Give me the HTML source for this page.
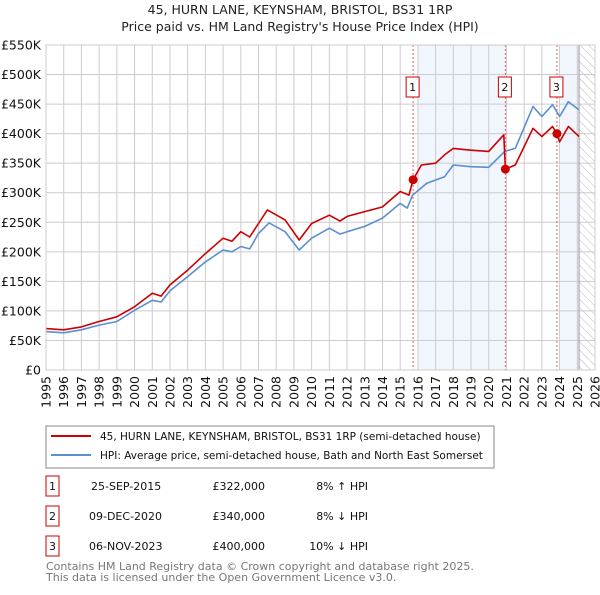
<!DOCTYPE html>
<html><head><meta charset="utf-8"><style>
body{margin:0;background:#fff;font-family:"Liberation Sans","DejaVu Sans",sans-serif}
svg text{font-family:"DejaVu Sans","Liberation Sans",sans-serif}
</style></head><body>
<svg id="c" width="600" height="590" viewBox="0 0 600 590" xmlns="http://www.w3.org/2000/svg">
<defs><pattern id="hatch" width="6" height="6" patternUnits="userSpaceOnUse" patternTransform="rotate(-45)"><line x1="0" y1="0" x2="0" y2="6" stroke="#bbb" stroke-width="1"/></pattern></defs>
<text x="300" y="14" text-anchor="middle" font-size="12.5" fill="#222">45, HURN LANE, KEYNSHAM, BRISTOL, BS31 1RP</text>
<text x="300" y="31" text-anchor="middle" font-size="12.5" fill="#222">Price paid vs. HM Land Registry's House Price Index (HPI)</text>
<g id="plot"></g>
<g>
<rect x="46" y="426" width="448" height="42" fill="#fff" stroke="#888"/>
<line x1="51" y1="436" x2="91" y2="436" stroke="#cc0000" stroke-width="2"/>
<text x="100" y="440" font-size="10.5" fill="#111">45, HURN LANE, KEYNSHAM, BRISTOL, BS31 1RP (semi-detached house)</text>
<line x1="51" y1="455" x2="91" y2="455" stroke="#5b8fd0" stroke-width="2"/>
<text x="100" y="459" font-size="10.5" fill="#111">HPI: Average price, semi-detached house, Bath and North East Somerset</text>
</g>
<g font-size="11" fill="#111">
<rect x="46" y="476" width="13" height="20" fill="none" stroke="#cc0000"/><text x="52.5" y="490" text-anchor="middle">1</text>
<text x="91" y="490">25-SEP-2015</text><text x="265" y="490" text-anchor="end">£322,000</text><text x="368" y="490" text-anchor="end">8% ↑ HPI</text>
<rect x="46" y="506" width="13" height="20" fill="none" stroke="#cc0000"/><text x="52.5" y="520" text-anchor="middle">2</text>
<text x="89" y="520">09-DEC-2020</text><text x="265" y="520" text-anchor="end">£340,000</text><text x="368" y="520" text-anchor="end">8% ↓ HPI</text>
<rect x="46" y="536" width="13" height="20" fill="none" stroke="#cc0000"/><text x="52.5" y="550" text-anchor="middle">3</text>
<text x="89" y="550">06-NOV-2023</text><text x="265" y="550" text-anchor="end">£400,000</text><text x="368" y="550" text-anchor="end">10% ↓ HPI</text>
</g>
<text x="46" y="570" font-size="11" fill="#777">Contains HM Land Registry data © Crown copyright and database right 2025.</text>
<text x="46" y="581" font-size="11" fill="#777">This data is licensed under the Open Government Licence v3.0.</text>
</svg>
<script>
const yTicks=[0,50,100,150,200,250,300,350,400,450,500,550];
const yTickLabels=["£0","£50K","£100K","£150K","£200K","£250K","£300K","£350K","£400K","£450K","£500K","£550K"];
const xYears=[1995,1996,1997,1998,1999,2000,2001,2002,2003,2004,2005,2006,2007,2008,2009,2010,2011,2012,2013,2014,2015,2016,2017,2018,2019,2020,2021,2022,2023,2024,2025,2026];
const hpiT=[1995,1996,1997,1998,1999,2000,2001,2001.5,2002,2003,2004,2005,2005.5,2006,2006.5,2007,2007.6,2008.5,2009.3,2010,2011,2011.6,2012,2013,2014,2015,2015.4,2015.7,2016.5,2017.5,2018,2019,2020,2020.9,2021.5,2022.5,2023,2023.6,2024,2024.5,2025.1];
const hpiV=[65,63,68,76,82,101,118,115,134,158,183,203,200,209,205,231,249,234,203,223,240,230,234,243,257,282,274,296,316,327,347,344,343,370,375,446,429,449,429,454,440];
const paidT=[1995,1996,1997,1998,1999,2000,2001,2001.5,2002,2003,2004,2005,2005.5,2006,2006.5,2007,2007.5,2008.5,2009.3,2010,2011,2011.6,2012,2013,2014,2015,2015.5,2015.73,2016.2,2017,2017.5,2018,2019,2020,2020.85,2020.94,2021.5,2022.5,2023,2023.6,2023.85,2024,2024.5,2025.1];
const paidV=[70,68,73,82,90,107,130,125,144,169,197,223,218,234,225,248,271,254,220,248,262,252,260,268,276,302,296,322,347,350,364,375,372,370,398,340,347,409,395,412,400,386,412,395];
const saleT=[2015.73,2020.94,2023.85];
const saleV=[322,340,400];
const saleLabels=["1","2","3"];
const NS="http://www.w3.org/2000/svg";
const L=46,R=595,T=45,B=370;
const xs=t=>L+(t-1995)*(R-L)/31;
const ys=v=>B-v*(B-T)/550;
const g=document.getElementById('plot');
function mk(tag,attrs,parent){const e=document.createElementNS(NS,tag);for(const k in attrs)e.setAttribute(k,attrs[k]);(parent||g).appendChild(e);return e;}
let e;
e=mk('rect',{x:xs(2016),y:T,width:xs(2020.94)-xs(2016),height:B-T,fill:'#eef3fc',opacity:0.8});


e=mk('rect',{x:xs(2024.05),y:T,width:xs(2025.1)-xs(2024.05),height:B-T,fill:'#eef3fc',opacity:0.8});


e=mk('rect',{x:xs(2025.1),y:T,width:R-xs(2025.1),height:B-T,fill:'url(#hatch)'});


yTicks.forEach((v,i)=>{
 e=mk('line',{x1:L,x2:R,y1:ys(v),y2:ys(v),stroke:'#ccc'});
 
 
 e=mk('text',{x:L-5,y:ys(v)+4.5,'text-anchor':'end','font-size':12.5,fill:'#111'});
 e.textContent=yTickLabels[i];
 
 
});
xYears.forEach(y=>{
 e=mk('line',{x1:xs(y),x2:xs(y),y1:T,y2:B,stroke:'#ccc'});
 
 
 e=mk('text',{x:0,y:0,'text-anchor':'end','font-size':12.5,fill:'#111',transform:`translate(${xs(y)+4.5},${B+6}) rotate(-90)`});
 e.textContent=y;
 
 
});
e=mk('line',{x1:xs(2025.1),x2:xs(2025.1),y1:T,y2:B,stroke:'#999'});


saleT.forEach((t,i)=>{
 e=mk('line',{x1:xs(t),x2:xs(t),y1:T,y2:B,stroke:'#e06060','stroke-dasharray':'2,2'});
 
 
});
function path(T_,V,col,name){
 const d=T_.map((t,i)=>(i?'L':'M')+xs(t).toFixed(1)+','+ys(V[i]).toFixed(1)).join('');
 const p=mk('path',{d:d,fill:'none',stroke:col,'stroke-width':1.6,'stroke-linejoin':'round'});
 
 
}
path(hpiT,hpiV,'#5b8fd0','hpi-line');
path(paidT,paidV,'#cc0000','price-paid-line');
saleT.forEach((t,i)=>{
 e=mk('circle',{cx:xs(t),cy:ys(saleV[i]),r:4.5,fill:'#cc0000'});
 
 
 e=mk('rect',{x:xs(t)-7,y:77,width:13,height:20,fill:'#fff',stroke:'#cc0000'});
 
 
 e=mk('text',{x:xs(t)-0.5,y:91,'text-anchor':'middle','font-size':11,fill:'#111'});
 e.textContent=saleLabels[i];
 
 
});
e=mk('rect',{x:L,y:T,width:R-L,height:B-T,fill:'none',stroke:'#ccc'});


</script>
</body></html>
